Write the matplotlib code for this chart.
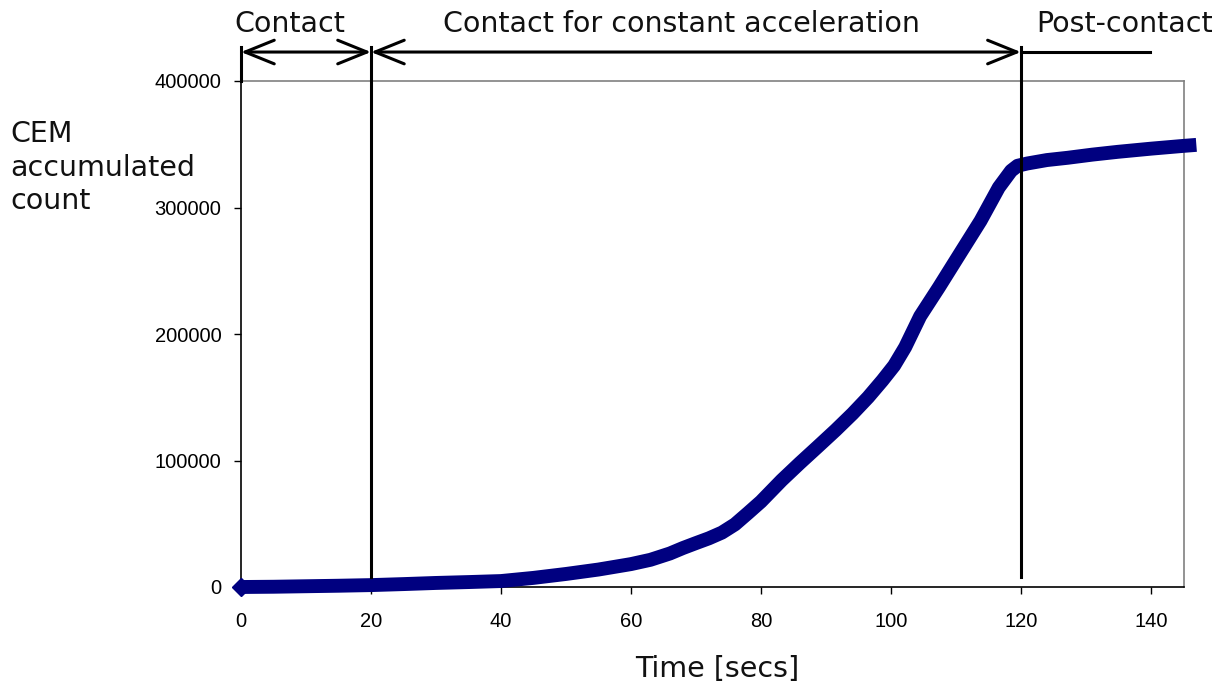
import matplotlib
matplotlib.use("Agg")
import matplotlib.pyplot as plt
from matplotlib.patches import FancyArrowPatch

# Data
time_s = [0, 5, 10, 15, 20, 25, 30, 35, 40, 45, 50, 55, 60, 63, 66, 68, 70, 72, 74,
          76, 78, 80, 83.2, 86, 88.7, 91.5, 94.1, 96.5, 98.7, 100.5, 102.2, 104.5,
          107.4, 110.6, 113.8, 116.6, 118.5, 119.5, 121, 124, 127.2, 131, 134.9,
          140, 145, 147]
cem_count = [0, 200, 600, 1000, 1500, 2300, 3200, 3900, 4700, 7200, 10300, 13800,
             18100, 21500, 26500, 30800, 34700, 38500, 43000, 49500, 58400, 67500,
             84400, 98000, 110700, 124000, 137000, 150000, 163300, 175000, 189600,
             214000, 237000, 263300, 289500, 315800, 329000, 333000, 334800, 337500,
             339300, 341800, 344000, 346500, 348700, 349500]

x_ticks = [0, 20, 40, 60, 80, 100, 120, 140]
y_ticks = [0, 100000, 200000, 300000, 400000]
phase_bounds = [0, 20, 120]
post_end = 139.8
phase_labels = ["Contact", "Contact for constant acceleration", "Post-contact"]
phase_label_x = [7.5, 67.8, 136.0]
ylabel_lines = ["CEM", "accumulated", "count"]

TITLE_FONT = ["DejaVu Sans"]
TICK_FONT = ["Liberation Sans", "DejaVu Sans"]
TEXT_SIZE = 20.5

fig = plt.figure(figsize=(12.25, 6.86), dpi=100)
ax = fig.add_axes([241 / 1225, 1 - 587 / 686, (1184 - 241) / 1225, (587 - 81) / 686])

ax.plot(time_s, cem_count, color="#000080", lw=10, solid_capstyle="butt",
        solid_joinstyle="round", clip_on=False, zorder=4)
ax.plot(time_s[0], cem_count[0], marker="D", ms=9.5, color="#000080",
        clip_on=False, zorder=4)

ax.set_xlim(0, 145.1)
ax.set_ylim(0, 400000)
ax.set_xticks(x_ticks)
ax.set_yticks(y_ticks)
ax.set_xticklabels([str(v) for v in x_ticks], family=TICK_FONT, fontsize=14.5)
ax.set_yticklabels([str(v) for v in y_ticks], family=TICK_FONT, fontsize=14.5)
ax.tick_params(axis="both", direction="out", length=5, width=1, color="black")
ax.tick_params(axis="x", pad=13)
ax.tick_params(axis="y", pad=9)

for side in ("left", "bottom"):
    ax.spines[side].set_color("black")
    ax.spines[side].set_linewidth(1.2)
for side in ("top", "right"):
    ax.spines[side].set_color("#808080")
    ax.spines[side].set_linewidth(1.2)

# Phase boundary lines
y_arrow = 422900
y_top = 427000
y_low = 7900
ax.plot([0, 0], [400000, y_top], color="black", lw=2.2, clip_on=False, zorder=6)
for xb in phase_bounds[1:]:
    ax.plot([xb, xb], [y_low, y_top], color="black", lw=2.2, clip_on=False, zorder=6)

arrow_style = "<->,head_length=21,head_width=8.5"
for a, b in zip(phase_bounds[:-1], phase_bounds[1:]):
    arr = FancyArrowPatch((a, y_arrow), (b, y_arrow), arrowstyle=arrow_style,
                          mutation_scale=1, lw=2.2, color="black",
                          shrinkA=0, shrinkB=0, clip_on=False, zorder=6)
    ax.add_patch(arr)
ax.plot([phase_bounds[-1], post_end], [y_arrow, y_arrow], color="black", lw=2.2,
        clip_on=False, zorder=6)

for lbl, xl in zip(phase_labels, phase_label_x):
    ax.text(xl, 438700, lbl, ha="center", va="baseline", fontsize=TEXT_SIZE,
            family=TITLE_FONT, color="#111111", clip_on=False)

for i, line in enumerate(ylabel_lines):
    fig.text(10 / 1225, 1 - (142 + 33.5 * i) / 686, line, ha="left", va="baseline",
             fontsize=TEXT_SIZE, family=TITLE_FONT, color="#111111")
fig.text(717 / 1225, 1 - 677 / 686, "Time [secs]", ha="center", va="baseline",
         fontsize=TEXT_SIZE, family=TITLE_FONT, color="#111111")

fig.savefig("out.png", dpi=100)
